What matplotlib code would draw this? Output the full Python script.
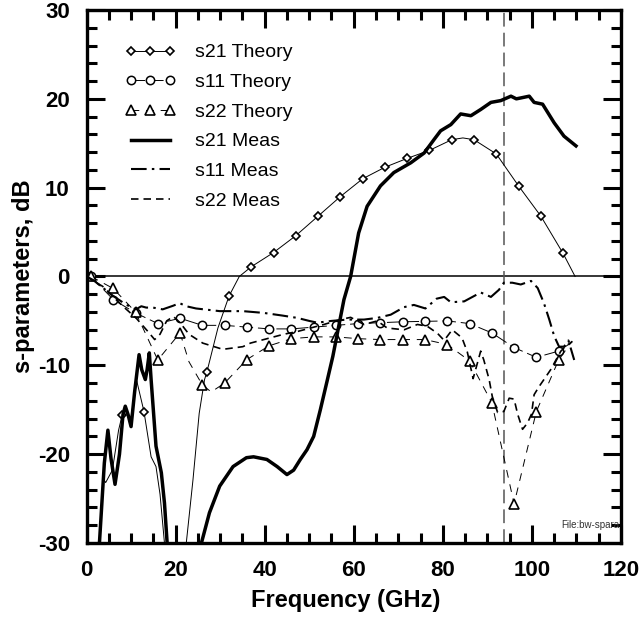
import numpy as np
import matplotlib
matplotlib.use("Agg")
import matplotlib.pyplot as plt
from matplotlib.ticker import MultipleLocator

plt.rcParams["font.family"] = ["Liberation Sans", "DejaVu Sans"]
plt.rcParams["axes.unicode_minus"] = False

# ---- s21 theory (thin solid, diamonds) ----
s21_th_f = [3.8, 4.3, 5.8, 7.2, 8.0, 8.7, 9.9, 11.3, 12.9, 14.5, 15.6, 16.5, 17.5, 18.3,
            21.8, 22.4, 23.9, 25.3, 26.5, 27.0, 29.5, 32.0, 34.3, 37.0, 42.0, 47.0, 52.0,
            57.0, 62.0, 67.0, 72.0, 77.0, 82.0, 84.5, 87.0, 92.0, 97.0, 102.0, 107.0, 109.7]
s21_th_db = [-22.8, -23.2, -21.8, -17.3, -15.6, -14.6, -16.1, -11.8, -15.2, -20.3, -21.4, -24.5, -30.0, -34.0,
             -34.0, -30.0, -22.9, -15.4, -11.6, -10.8, -5.8, -2.2, 0.0, 1.1, 2.7, 4.6, 6.8,
             9.0, 11.0, 12.3, 13.3, 14.2, 15.4, 15.6, 15.4, 13.8, 10.2, 6.8, 2.6, 0.0]
s21_th_marks = [8.0, 12.9, 27.0, 32.0, 37.0, 42.0, 47.0, 52.0, 57.0, 62.0, 67.0, 72.0,
                77.0, 82.0, 87.0, 92.0, 97.0, 102.0, 107.0]

# ---- s11 theory (thin dashed, circles) ----
s11_th_f = [1, 6, 11, 16, 21, 26, 31, 36, 41, 46, 51, 56, 61, 66, 71, 76, 81, 86, 91, 96, 101, 106, 109]
s11_th_db = [0.0, -2.6, -4.1, -5.3, -4.7, -5.5, -5.5, -5.7, -5.9, -5.9, -5.7, -5.5, -5.3, -5.2,
             -5.1, -5.05, -5.0, -5.3, -6.35, -8.0, -9.1, -8.4, -7.4]
s11_th_marks = s11_th_f[:-1]

# ---- s22 theory (thin dashed, triangles) ----
s22_th_f = [1, 6, 11, 16, 21, 23, 26, 28, 31, 36, 41, 46, 51, 56, 61, 66, 71, 76, 81, 86, 91,
            96, 101, 106, 109]
s22_th_db = [0.0, -1.35, -4.0, -9.4, -6.35, -9.6, -12.2, -13.0, -12.0, -9.35, -7.8, -7.0, -6.8,
             -6.8, -7.0, -7.1, -7.1, -7.1, -7.66, -9.5, -14.2, -25.6, -15.2, -9.4, -7.3]
s22_th_marks = [1, 6, 11, 16, 21, 26, 31, 36, 41, 46, 51, 56, 61, 66, 71, 76, 81, 86, 91, 96, 101, 106]

# ---- s21 measured (thick solid) ----
s21_m_f = [2.6, 2.9, 4.0, 4.8, 5.5, 6.4, 7.4, 8.2, 8.7, 9.3, 10.0, 10.8, 11.8, 12.4, 13.2, 13.6,
           14.1, 14.5, 15.6, 16.8, 17.5, 18.1, 18.5,
           25.5, 25.8, 27.6, 29.9, 32.9, 35.9, 37.5, 40.5, 42.8, 45.0, 46.5, 48.0, 49.5, 51.0,
           52.5, 54.0, 55.3, 57.8, 59.3, 61.1, 63.0, 66.0, 69.0, 72.8, 75.8, 78.0, 79.5, 81.8,
           84.0, 86.3, 88.5, 90.8, 93.0, 95.3, 96.5, 97.5, 99.4, 100.5, 102.4, 105.0, 107.2, 109.9]
s21_m_db = [-34.0, -30.0, -21.0, -17.3, -20.5, -23.4, -20.0, -15.5, -14.6, -15.5, -16.9, -13.0,
            -8.8, -10.5, -11.6, -10.5, -8.6, -11.6, -19.1, -22.1, -25.5, -30.0, -34.0,
            -34.0, -30.0, -26.6, -23.6, -21.4, -20.4, -20.3, -20.6, -21.4, -22.3, -21.8, -20.6,
            -19.5, -18.0, -15.0, -11.8, -9.0, -2.6, 0.0, 4.9, 7.9, 10.2, 11.7, 12.8, 13.9, 15.4,
            16.4, 17.1, 18.3, 18.1, 18.8, 19.6, 19.8, 20.3, 20.0, 20.1, 20.3, 19.6, 19.4, 17.3,
            15.8, 14.7]

# ---- s11 measured (dash-dot) ----
s11_m_f = [0, 1.5, 3, 6, 9, 11.1, 12.3, 13.4, 14.9, 17.1, 19.4, 20.9, 22.4, 24.6, 29.9, 35.1,
           39.8, 44, 47.3, 50, 51.8, 55, 58.5, 62.3, 65.3, 68.3, 71.3, 73.5, 76.1, 78.6, 80.3,
           81.8, 84.8, 88.5, 90.8, 92.6, 93.7, 95.6, 97.5, 99.8, 101.3, 102.7, 103.9, 105,
           106.1, 107.2, 108.2, 109.5]
s11_m_db = [0.0, -0.4, -1.0, -2.2, -3.2, -3.7, -3.35, -3.5, -3.5, -3.7, -3.3, -3.0, -3.35, -3.6,
            -3.9, -3.9, -4.1, -4.4, -4.66, -5.0, -5.2, -5.0, -4.85, -4.85, -4.66, -4.3, -3.45,
            -3.2, -3.6, -2.5, -2.3, -2.9, -2.8, -1.8, -2.3, -1.5, -0.7, -0.7, -0.9, -0.5, -1.3,
            -3.0, -4.85, -6.7, -7.9, -7.9, -7.2, -9.4]

# ---- s22 measured (dashed) ----
s22_m_f = [0, 1.5, 3.6, 6, 8.5, 11.1, 13.8, 15.3, 16.5, 18, 19.5, 21, 23, 26.1, 30.6, 35.1,
           36.8, 41.3, 44.3, 47.3, 50.3, 53.3, 57, 59.3, 62.3, 65.3, 67.5, 71.3, 74.3, 76.5,
           78.8, 80.3, 82.1, 84.3, 85.5, 86.8, 88.5, 89.2, 90.4, 91.1, 92.3, 93.7, 94.9, 96.0,
           96.8, 97.9, 99.0, 99.9, 100.5, 101.6, 102.7, 104.2, 105.4, 106.5, 108, 109.1]
s22_m_db = [0.0, -0.5, -1.1, -2.3, -3.5, -4.66, -6.2, -7.1, -6.5, -5.0, -4.5, -5.2, -6.5, -7.5,
            -8.2, -7.9, -7.5, -6.9, -6.5, -6.2, -5.8, -5.4, -4.85, -4.6, -5.4, -5.0, -5.8, -6.0,
            -5.4, -5.6, -6.4, -7.2, -6.0, -6.9, -8.5, -11.5, -8.4, -9.4, -11.6, -13.5, -15.3,
            -15.2, -13.7, -13.8, -15.5, -17.2, -16.5, -15.5, -13.3, -12.4, -11.6, -10.5, -9.4,
            -8.4, -7.7, -7.3]

marker_freq = 93.7

fig = plt.figure(figsize=(6.39, 6.18), dpi=100)
ax = fig.add_axes([0.1354, 0.1214, 0.8364, 0.8624])

ax.axhline(0, color="black", lw=1.1, zorder=1)
ax.axvline(marker_freq, color="#555555", lw=1.1, dashes=(9, 4), zorder=1)

def mask(f, marks):
    return list(np.isin(np.round(f, 2), np.round(marks, 2)))

ax.plot(s21_th_f, s21_th_db, color="black", lw=0.7, marker="D", ms=4.5, mfc="white",
        mec="black", mew=1.2, markevery=mask(s21_th_f, s21_th_marks), label="s21 Theory")
ax.plot(s11_th_f, s11_th_db, color="black", lw=0.7, dashes=(14, 5), marker="o", ms=6,
        mfc="white", mec="black", mew=1.1, markevery=mask(s11_th_f, s11_th_marks),
        label="s11 Theory")
ax.plot(s22_th_f, s22_th_db, color="black", lw=0.7, dashes=(8, 7), marker="^", ms=6.5,
        mfc="white", mec="black", mew=1.2, markevery=mask(s22_th_f, s22_th_marks),
        label="s22 Theory")
ax.plot(s21_m_f, s21_m_db, color="black", lw=2.5, label="s21 Meas")
ax.plot(s11_m_f, s11_m_db, color="black", lw=1.5, dashes=(7.5, 2.5, 1.2, 2.5), label="s11 Meas")
ax.plot(s22_m_f, s22_m_db, color="black", lw=1.2, dashes=(4.5, 3), label="s22 Meas")

ax.set_xlim(0, 120)
ax.set_ylim(-30, 30)
ax.xaxis.set_major_locator(MultipleLocator(20))
ax.xaxis.set_minor_locator(MultipleLocator(5))
ax.yaxis.set_major_locator(MultipleLocator(10))
ax.yaxis.set_minor_locator(MultipleLocator(2))
ax.tick_params(which="both", direction="in", top=True, right=True, width=2.2)
ax.tick_params(which="major", length=13, pad=12, labelsize=16)
ax.tick_params(which="minor", length=7)
for lab in ax.get_xticklabels() + ax.get_yticklabels():
    lab.set_fontweight("bold")
for sp in ax.spines.values():
    sp.set_linewidth(2.4)

ax.set_xlabel("Frequency (GHz)", fontsize=17, fontweight="bold")
ax.set_ylabel("s-parameters, dB", fontsize=17, fontweight="bold")
ax.xaxis.set_label_coords(0.485, -0.086)
ax.yaxis.set_label_coords(-0.097, 0.5)

ax.text(106.5, -28.3, "File:bw-spara", fontsize=7, color="#333333", clip_on=True)

ax.legend(loc="upper left", bbox_to_anchor=(0.054, 0.955), frameon=False, fontsize=14,
          numpoints=3, handlelength=2.6, handletextpad=1.0, labelspacing=0.62, borderpad=0)

fig.savefig("out.png", dpi=100)
